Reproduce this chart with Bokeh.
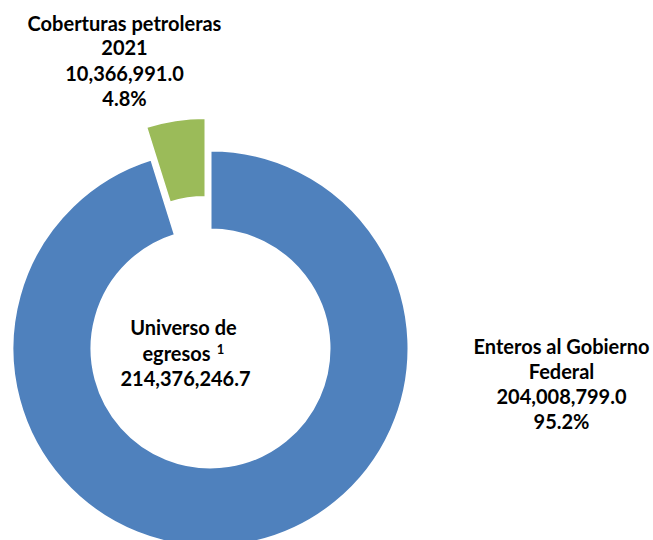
import math
from bokeh.plotting import figure
from bokeh.models import Range1d, ColumnDataSource
from bokeh.core.properties import value
from bokeh.embed import file_html
from bokeh.resources import INLINE

# Data
categories = ["Enteros al Gobierno Federal", "Coberturas petroleras 2021"]
values = [204008799.0, 10366991.0]
total_value = 214376246.7
colors = ["#4F81BD", "#9BBB59"]
center_title = ["Universo de", "egresos"]
footnote_mark = "1"

W, H = 653, 540
p = figure(width=W, height=H, output_backend="svg", toolbar_location=None,
           x_range=Range1d(0, W), y_range=Range1d(0, H), min_border=0)
p.axis.visible = False
p.grid.visible = False
p.outline_line_color = None
p.background_fill_color = "white"
p.border_fill_color = "white"

cx, cy = 210, H - 348
r_in, r_out = 119, 198
explode = 33

s = sum(values)
fracs = [v / s for v in values]
g_start = math.pi / 2
g_end = g_start + 2 * math.pi * fracs[1]
b_start = g_end
b_end = math.pi / 2 + 2 * math.pi
mid = (g_start + g_end) / 2

xs = [cx, cx + explode * math.cos(mid)]
ys = [cy, cy + explode * math.sin(mid)]
src = ColumnDataSource(dict(x=xs, y=ys, start=[b_start, g_start], end=[b_end, g_end], color=colors))
p.annular_wedge(x="x", y="y", inner_radius=r_in, outer_radius=r_out,
                start_angle="start", end_angle="end", direction="anticlock",
                fill_color="color", line_color="white", line_width=2, source=src)

FONT = value("Lato")

def label(lines, x, y_top, step=25.3, size="20px"):
    ys_ = [H - (y_top + i * step) for i in range(len(lines))]
    p.text(x=[x] * len(lines), y=ys_, text=lines, text_font=FONT,
           text_font_style="bold", text_font_size=size, text_color="black",
           text_align="center", text_baseline="middle")

pct = [f * 100 for f in fracs]
label(["Coberturas petroleras", "2021", f"{values[1]:,.1f}", f"{pct[1]:.1f}%"], 124, 22)
label(["Enteros al Gobierno", "Federal", f"{values[0]:,.1f}", f"{pct[0]:.1f}%"], 561, 345)
label([center_title[0]], 183, 326)
label([center_title[1]], 176, 352)
label([f"{total_value:,.1f}"], 185, 378)
p.text(x=[220], y=[H - 348], text=[footnote_mark], text_font=FONT, text_font_style="bold",
       text_font_size="13px", text_color="black", text_align="center", text_baseline="middle")

open("out.html", "w").write(file_html(p, INLINE))
